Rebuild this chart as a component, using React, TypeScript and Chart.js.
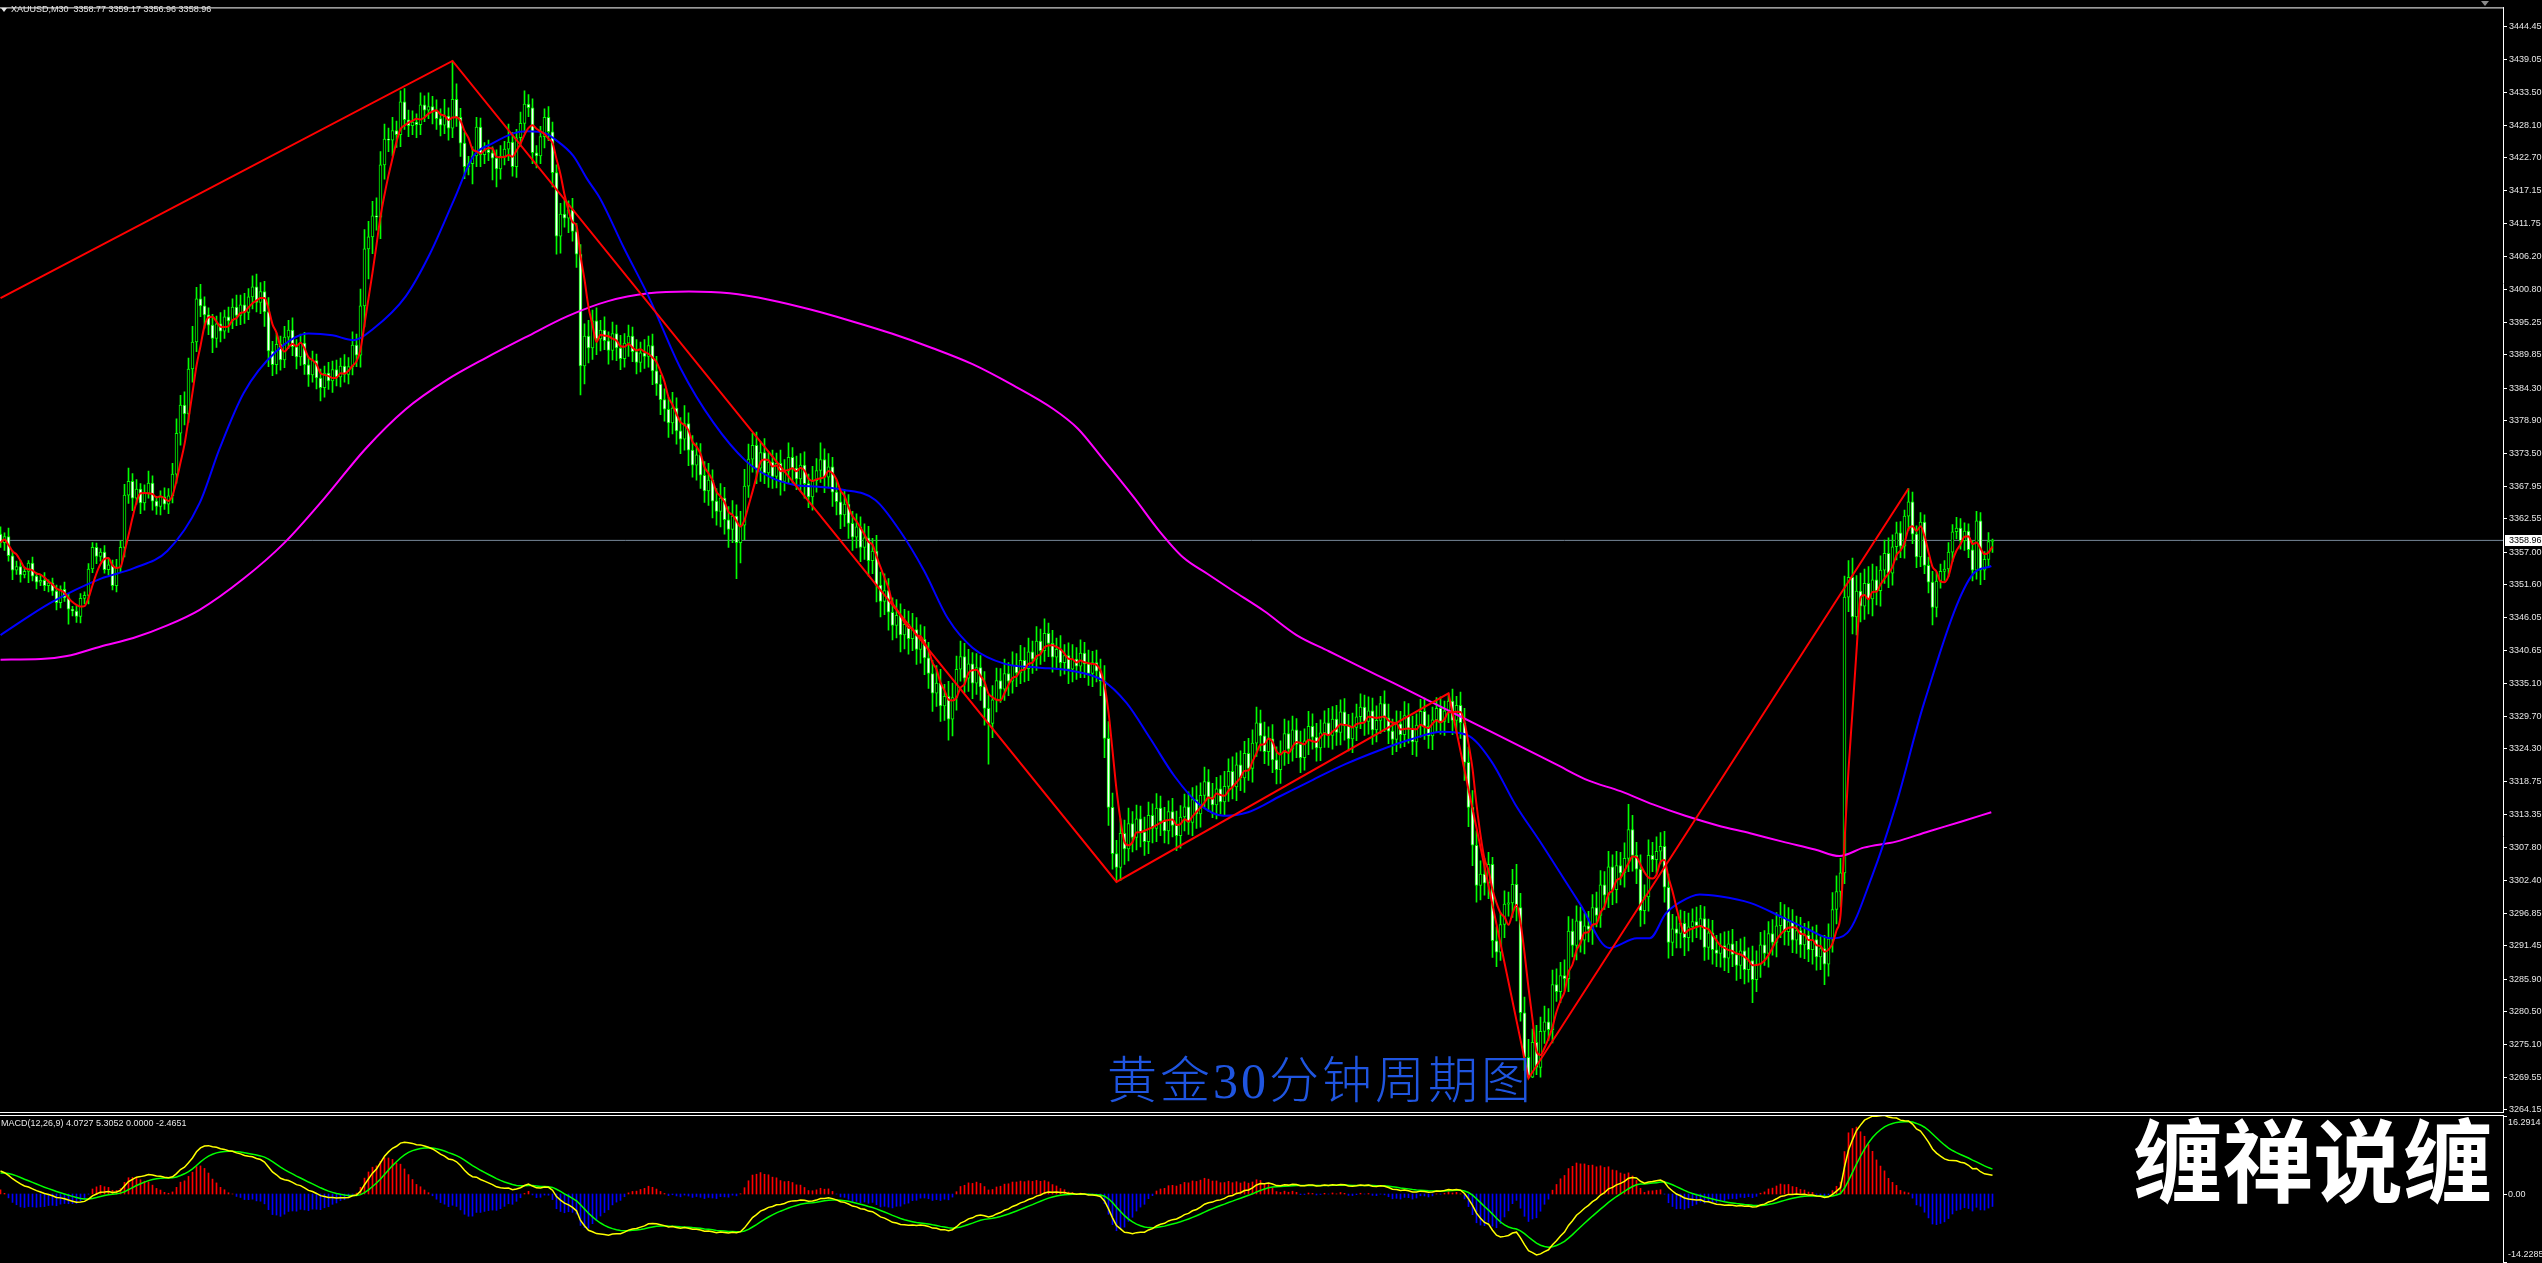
import React, { useEffect, useRef } from "react";
import { Chart, registerables } from "chart.js";

Chart.register(...registerables);

// ---------------- text ----------------
const symbolHeader = "XAUUSD,M30  3358.77 3359.17 3356.96 3358.96";
const macdHeader = "MACD(12,26,9) 4.0727 5.3052 0.0000 -2.4651";
const captionText = "黄金30分钟周期图";
const watermarkText = "缠禅说缠";

// ---------------- candles (M30, oldest -> newest) ----------------
const firstOpen = 3360.0;
const closes = [
  3358.6,3359.6,3356.4,3354.0,3354.6,3353.2,3353.8,3355.2,3353.0,3352.0,
  3352.3,3351.4,3351.9,3350.5,3348.6,3350.8,3349.4,3347.5,3347.2,3346.3,
  3349.3,3349.8,3354.2,3357.8,3356.3,3357.0,3354.1,3354.9,3351.4,3354.5,
  3357.8,3366.5,3368.8,3366.0,3367.5,3365.2,3366.8,3368.5,3365.5,3364.6,
  3366.2,3365.0,3366.4,3370.0,3376.8,3381.5,3380.0,3387.5,3392.0,3399.2,
  3398.0,3396.5,3394.8,3392.6,3395.0,3393.8,3396.2,3395.5,3397.8,3396.4,
  3398.2,3396.9,3399.5,3401.2,3398.6,3400.4,3397.0,3390.5,3388.2,3391.6,
  3389.0,3392.8,3394.0,3391.2,3389.5,3391.8,3388.2,3386.5,3388.9,3386.0,
  3384.4,3386.8,3385.5,3387.4,3386.2,3388.0,3386.6,3387.9,3391.5,3389.8,
  3398.0,3407.5,3409.5,3413.0,3412.8,3421.5,3425.8,3425.6,3427.2,3426.5,
  3432.0,3429.0,3428.0,3428.6,3428.2,3431.5,3430.6,3431.2,3430.4,3429.2,
  3428.1,3429.6,3427.6,3432.4,3429.4,3425.1,3421.2,3421.7,3423.0,3427.8,
  3423.2,3424.0,3423.5,3422.6,3420.8,3422.9,3424.1,3425.3,3421.2,3426.0,
  3428.4,3431.6,3431.0,3423.5,3423.0,3426.2,3429.4,3427.0,3420.2,3409.6,
  3413.3,3412.6,3414.0,3410.4,3406.6,3388.0,3393.0,3391.0,3395.5,3392.5,
  3394.0,3392.2,3390.6,3393.4,3391.0,3389.2,3391.8,3393.0,3390.4,3388.6,
  3390.2,3389.6,3391.4,3387.2,3385.0,3382.4,3380.8,3378.5,3381.0,3377.2,
  3375.8,3378.4,3374.0,3371.5,3373.2,3369.8,3367.2,3369.0,3365.5,3363.8,
  3366.0,3362.4,3360.8,3363.0,3358.6,3361.5,3368.0,3372.5,3374.8,3371.0,
  3373.6,3370.2,3372.0,3369.6,3371.8,3368.8,3370.5,3372.8,3371.0,3369.2,
  3371.5,3368.4,3366.2,3368.9,3370.6,3372.4,3369.5,3371.2,3367.0,3365.4,
  3363.2,3365.0,3361.8,3359.5,3361.2,3357.8,3359.4,3355.6,3357.2,3351.5,
  3348.8,3350.6,3347.0,3344.8,3346.5,3343.2,3345.0,3342.6,3344.1,3340.8,
  3342.5,3339.4,3336.8,3333.5,3335.2,3331.4,3333.0,3329.2,3332.8,3337.5,
  3339.6,3336.0,3338.4,3335.2,3337.8,3334.6,3331.0,3328.5,3332.4,3335.6,
  3334.2,3336.8,3335.5,3338.2,3336.9,3339.0,3337.6,3340.4,3339.2,3342.2,
  3340.6,3343.5,3341.8,3339.5,3340.8,3338.6,3339.8,3337.5,3339.2,3338.0,
  3340.2,3338.4,3336.8,3338.6,3337.2,3335.5,3326.0,3314.5,3306.8,3304.5,
  3310.2,3307.6,3311.8,3309.5,3312.6,3310.4,3308.8,3313.2,3311.0,3314.4,
  3312.2,3310.6,3313.8,3311.5,3309.8,3312.9,3314.6,3312.0,3315.8,3313.4,
  3316.5,3318.8,3316.2,3314.9,3317.6,3315.4,3318.0,3320.5,3317.9,3321.6,
  3319.4,3323.5,3321.0,3325.2,3328.6,3326.4,3323.8,3325.9,3322.4,3320.8,
  3323.6,3326.8,3324.2,3327.4,3325.0,3322.8,3325.6,3328.0,3326.2,3324.4,
  3326.9,3328.6,3326.5,3329.2,3327.0,3330.4,3328.1,3325.9,3327.8,3329.6,
  3331.2,3328.8,3330.6,3327.4,3329.0,3331.8,3329.4,3327.2,3325.8,3328.4,
  3326.6,3329.8,3327.5,3325.4,3328.2,3330.5,3328.0,3326.4,3329.1,3331.0,
  3328.8,3330.6,3332.2,3329.0,3331.5,3328.6,3322.0,3314.5,3308.2,3301.5,
  3303.4,3301.9,3305.0,3292.3,3290.4,3295.0,3298.4,3298.6,3301.7,3297.8,
  3280.3,3272.9,3269.6,3275.4,3271.2,3277.2,3278.8,3277.5,3285.0,3283.8,
  3286.5,3286.0,3293.9,3291.5,3295.6,3292.4,3294.8,3294.2,3297.8,3296.5,
  3301.6,3299.9,3304.6,3300.8,3304.8,3303.6,3306.0,3310.8,3306.5,3304.2,
  3297.3,3299.6,3306.5,3305.8,3307.2,3308.0,3301.2,3292.0,3294.3,3293.5,
  3295.2,3292.8,3294.6,3295.5,3294.8,3296.0,3291.2,3293.6,3290.8,3290.2,
  3291.5,3289.4,3291.8,3290.0,3288.2,3290.6,3287.5,3289.0,3285.8,3288.4,
  3291.6,3290.2,3293.5,3292.0,3294.8,3296.2,3293.8,3295.5,3292.4,3294.0,
  3291.6,3293.2,3290.8,3292.5,3289.6,3291.0,3288.4,3292.6,3297.5,3300.5,
  3303.6,3349.5,3352.8,3346.2,3350.5,3348.0,3351.8,3349.2,3352.4,3350.6,
  3354.0,3356.8,3353.5,3357.9,3360.2,3358.0,3363.0,3365.4,3360.0,3356.2,
  3362.0,3354.8,3352.0,3347.8,3352.2,3353.8,3354.2,3357.0,3360.4,3361.0,
  3358.9,3360.5,3357.4,3354.0,3362.2,3354.0,3355.8,3358.77,3358.96,
];
const upWicks = [
  1.2,0.6,1.4,0.8,0.9,1.1,0.7,0.4,1.0,0.6,
  0.9,1.3,0.5,0.8,1.0,0.6,1.2,0.7,0.5,0.9,
  0.8,0.6,0.9,0.8,0.7,0.6,1.1,0.9,0.8,1.3,
  1.1,1.8,2.2,1.3,1.6,0.9,1.4,2.0,1.2,0.8,
  1.0,1.5,1.2,1.8,2.4,1.6,2.2,1.8,2.6,1.9,
  2.4,1.5,1.2,1.8,1.3,1.9,1.1,1.6,1.4,2.0,
  1.6,1.9,1.4,1.8,2.1,1.5,1.7,2.4,1.6,1.9,
  1.4,1.8,1.6,2.0,1.2,1.5,1.8,1.3,1.6,1.1,
  1.5,1.2,1.8,1.4,1.6,1.3,1.9,1.5,2.2,1.8,
  2.8,3.2,2.6,2.4,3.0,2.2,2.5,1.8,2.2,1.6,
  1.8,2.2,1.6,1.9,1.4,2.0,1.5,2.3,1.7,1.9,
  1.6,2.8,1.4,6.4,2.6,1.5,1.8,1.2,1.5,1.6,
  1.5,1.2,1.6,1.0,1.4,1.8,1.3,3.0,1.6,1.4,
  1.9,2.2,1.6,1.5,1.2,1.7,1.4,1.8,1.6,1.3,
  1.8,2.4,1.5,1.9,1.3,1.6,2.0,2.6,1.8,2.2,
  1.6,2.2,1.5,1.9,1.4,2.1,1.6,1.8,1.5,2.0,
  1.8,2.2,1.6,1.9,2.4,1.5,1.8,2.0,2.6,1.7,
  2.2,3.0,1.8,2.4,2.0,1.9,2.3,2.8,1.7,2.1,
  2.4,1.8,2.2,2.6,1.9,2.3,2.8,2.5,2.0,2.2,
  1.8,2.3,1.6,2.0,1.7,2.2,1.9,2.4,1.6,2.0,
  1.9,2.2,1.6,2.4,2.0,2.8,1.8,2.2,1.6,2.0,
  1.8,2.4,1.6,2.0,2.2,1.7,2.3,1.9,2.1,2.6,
  2.2,2.8,2.0,2.4,2.6,1.9,2.5,2.2,2.7,2.0,
  2.4,2.1,2.6,2.2,2.9,2.3,2.0,2.5,2.4,2.2,
  2.6,2.2,2.4,1.9,2.3,2.0,2.5,2.2,2.4,2.1,
  2.0,2.4,1.8,2.2,1.9,2.5,2.1,2.3,1.8,2.4,
  2.0,2.4,1.7,2.2,1.9,2.3,1.8,2.1,2.4,1.9,
  2.2,1.8,2.3,1.9,2.1,2.0,2.6,2.8,2.4,2.2,
  2.4,2.2,2.6,2.0,2.3,2.1,2.5,2.2,1.9,2.4,
  2.0,2.3,1.8,2.2,2.4,1.9,2.1,2.5,2.0,2.3,
  2.1,2.4,2.0,2.3,1.9,2.2,2.5,2.1,2.4,2.0,
  2.3,2.0,2.5,2.2,2.6,2.1,2.3,2.0,2.4,2.2,
  2.0,2.4,2.1,2.3,1.9,2.2,2.0,2.5,2.1,2.3,
  2.2,2.0,2.4,2.1,2.3,2.0,2.2,1.9,2.4,2.1,
  2.2,2.0,2.3,2.1,2.4,1.2,2.1,2.3,2.0,2.2,
  2.1,2.3,2.0,2.2,1.9,2.0,2.2,1.9,2.1,1.8,
  1.9,1.6,1.3,2.0,1.5,2.2,2.4,2.6,2.8,2.4,
  2.2,2.6,2.0,1.2,2.3,2.0,2.2,1.8,2.5,3.3,
  2.4,2.6,3.0,2.2,2.8,2.4,2.6,2.2,2.4,2.6,
  2.2,2.6,2.4,2.0,2.5,2.3,2.1,2.4,2.2,2.6,
  2.4,2.2,2.6,2.0,2.4,2.2,2.6,4.2,2.4,2.2,
  2.4,2.0,2.6,2.2,2.4,2.3,2.5,2.2,2.4,2.0,
  2.2,2.0,2.3,2.1,2.4,2.2,2.0,2.3,2.1,2.4,
  2.0,2.3,2.1,2.4,2.2,2.0,2.3,2.1,2.4,2.2,
  2.1,2.4,2.0,2.3,2.2,2.5,2.1,2.3,2.0,2.4,
  2.2,2.0,2.3,2.1,2.4,2.0,2.2,2.5,2.8,2.6,
  2.4,3.5,2.8,3.2,2.6,3.0,2.4,2.8,2.6,2.2,
  2.4,2.2,2.6,2.0,1.8,1.9,1.0,2.2,1.6,1.4,
  1.6,1.2,1.4,1.8,1.5,1.2,1.4,1.6,1.2,1.8,
  1.6,1.4,1.2,1.5,1.6,1.4,1.3,1.5,0.21,
];
const downWicks = [
  0.8,1.3,0.9,1.6,0.7,1.2,0.5,1.9,0.8,1.1,
  0.6,0.8,1.0,0.7,1.2,0.9,0.6,2.5,0.8,1.0,
  1.1,0.9,1.4,0.6,1.2,0.8,0.6,0.9,0.7,1.0,
  0.9,1.6,1.4,2.1,1.0,1.8,1.2,0.8,1.5,1.3,
  1.4,0.9,1.6,1.2,1.5,2.0,1.8,1.4,2.2,1.6,
  1.8,2.2,1.6,2.4,1.5,1.8,1.2,1.9,1.3,1.7,
  1.5,1.8,1.2,2.0,1.6,1.9,2.4,2.6,1.8,1.5,
  1.7,1.3,1.9,1.5,2.0,1.4,1.6,1.9,1.2,1.8,
  2.2,1.6,1.4,1.9,1.5,1.7,1.3,1.6,1.4,1.9,
  2.0,3.5,5.0,2.8,2.2,3.6,2.4,1.9,2.6,2.1,
  2.0,1.6,1.8,1.5,2.2,1.7,1.9,1.4,2.1,1.8,
  1.8,1.4,2.0,1.6,1.5,2.2,2.0,1.4,3.4,1.8,
  2.0,1.5,1.3,3.6,3.0,1.7,1.4,1.9,1.6,1.8,
  1.4,1.6,1.5,1.8,2.0,1.3,1.9,1.5,2.4,3.0,
  2.8,1.5,2.4,1.6,2.2,4.8,3.0,2.5,1.9,2.6,
  2.0,1.5,2.3,1.6,2.1,1.8,1.4,2.2,1.7,1.9,
  1.6,2.0,1.8,2.3,1.9,2.5,2.0,2.4,1.8,2.2,
  2.4,1.8,2.6,2.0,2.5,2.2,1.9,2.4,2.8,2.3,
  2.6,2.4,3.0,2.2,6.0,3.4,2.4,1.9,2.2,2.6,
  2.2,1.8,2.4,2.0,1.9,2.3,1.6,2.1,2.5,1.8,
  2.1,2.4,1.8,2.2,1.9,2.0,2.6,1.8,2.4,2.2,
  2.3,1.9,2.5,2.2,1.8,2.4,2.0,2.6,2.2,2.8,
  2.6,2.2,3.0,2.4,2.1,2.8,2.3,2.6,2.0,2.5,
  2.3,2.8,2.5,3.0,2.2,2.6,2.4,3.5,2.8,2.1,
  2.0,2.4,2.2,2.6,1.9,2.3,2.8,6.8,2.4,2.0,
  2.2,1.9,2.4,2.0,2.3,1.8,2.2,2.0,2.4,1.9,
  2.3,1.8,2.2,2.5,2.0,2.2,1.9,2.4,2.1,2.2,
  1.9,2.3,2.0,2.2,1.8,2.4,3.2,3.0,2.6,2.4,
  2.2,2.6,2.0,2.4,2.1,2.5,2.3,2.0,2.4,2.2,
  2.4,2.0,2.2,1.9,2.5,2.1,2.3,2.0,2.2,2.4,
  2.2,2.0,2.4,2.1,2.3,2.0,2.2,2.5,2.0,2.3,
  2.1,2.4,2.0,2.3,2.2,2.5,2.0,2.3,2.1,2.4,
  2.3,2.1,2.4,2.0,2.2,2.5,2.1,2.3,2.0,2.2,
  2.1,2.4,2.0,2.3,2.2,2.1,2.4,2.0,2.3,2.2,
  2.0,2.3,2.1,2.4,2.0,2.2,2.3,2.1,2.5,2.0,
  2.2,2.0,2.3,2.1,2.4,2.0,2.2,2.1,2.3,2.0,
  2.1,2.3,2.0,2.4,2.2,2.6,3.0,3.2,3.4,2.8,
  2.4,2.0,2.6,2.8,2.4,1.4,2.2,2.0,2.4,2.2,
  1.4,2.2,0.2,0.1,1.2,1.6,2.0,1.8,2.2,1.6,
  1.8,2.0,2.2,1.9,2.4,2.0,2.3,2.1,2.5,1.9,
  2.0,2.4,2.1,2.5,2.2,2.0,2.4,2.2,2.6,2.4,
  2.6,2.2,2.4,2.0,2.3,2.1,2.5,2.6,2.2,2.4,
  2.4,3.0,2.2,2.5,2.0,2.3,2.2,2.0,2.4,2.2,
  2.3,2.1,2.4,2.0,2.5,2.2,2.4,2.1,3.8,2.0,
  2.2,2.0,2.3,2.1,2.4,2.0,2.2,2.3,2.1,2.2,
  2.1,2.3,2.0,2.4,2.2,2.1,3.4,2.0,2.2,2.4,
  2.6,1.8,2.4,2.8,3.0,2.6,2.2,2.5,2.8,2.4,
  2.6,2.2,2.4,2.0,2.2,1.9,2.0,2.4,1.6,1.8,
  1.6,1.4,1.8,2.9,1.6,1.2,1.5,1.3,1.6,1.2,
  1.4,1.6,1.3,1.8,1.5,2.4,1.6,1.4,1.81,
];

// ---------------- price axis ----------------
const priceTicks = [
  3444.45, 3439.05, 3433.5, 3428.1, 3422.7, 3417.15, 3411.75, 3406.2, 3400.8,
  3395.25, 3389.85, 3384.3, 3378.9, 3373.5, 3367.95, 3362.55, 3357.0, 3351.6,
  3346.05, 3340.65, 3335.1, 3329.7, 3324.3, 3318.75, 3313.35, 3307.8, 3302.4,
  3296.85, 3291.45, 3285.9, 3280.5, 3275.1, 3269.55, 3264.15,
];
const priceMin = 3263.78;
const priceMax = 3447.71;
const currentPrice = 3358.96;

// ---------------- overlays ----------------
const zigzagIndex = [0, 113, 279, 362, 382, 477];
const zigzagPrice = [3399.3, 3438.8, 3302.1, 3333.5, 3269.4, 3367.6];

const blueIndex = [
  0,12.6,25.1,33.2,41.7,49.8,54.7,60.8,68.9,77.0,83.0,88.3,93.2,101.3,107.3,
  113.4,118.3,123.1,128.0,131.6,136.5,138.1,143.2,146.6,149.9,155.9,162.0,170.1,
  178.2,186.3,192.4,198.5,204.5,210.6,218.7,224.8,230.9,236.9,243.0,251.1,259.2,
  267.3,275.4,281.5,287.6,293.6,299.7,305.8,311.9,320.0,328.1,336.2,344.3,352.4,
  360.5,366.5,372.6,378.7,384.8,394.9,402.2,409.1,412.3,416.3,419.6,424.8,429.7,
  437.4,445.5,451.6,457.7,461.7,467.8,473.9,480.9,492.7,497.7,
];
const bluePrice = [
  3343.2,3348.6,3352.6,3354.3,3357.2,3365.2,3374.1,3383.5,3390.4,3393.4,3393.1,
  3392.3,3394.2,3399.6,3406.6,3415.7,3423.0,3425.1,3426.7,3427.1,3426.7,3426.0,
  3423.0,3419.2,3415.9,3407.6,3399.6,3387.5,3378.6,3372.2,3369.5,3368.2,3367.9,
  3367.4,3365.7,3360.6,3353.9,3345.9,3341.1,3338.4,3337.8,3337.3,3335.7,3331.9,
  3325.8,3319.6,3315.0,3313.1,3313.7,3316.4,3319.1,3321.7,3323.9,3325.8,3327.1,
  3326.6,3322.3,3315.0,3308.9,3298.4,3291.1,3292.7,3292.7,3296.8,3298.6,3300.0,
  3299.7,3298.6,3296.2,3294.3,3292.7,3293.6,3302.9,3315.0,3331.9,3353.0,3354.7,
];
const magentaIndex = [
  0,10.1,16.6,25.1,33.2,41.7,49.8,60.8,70.9,81.0,91.1,101.3,111.4,121.5,131.6,
  141.8,151.9,162.0,172.1,182.3,192.4,202.5,212.6,222.8,232.9,243.0,253.1,263.3,
  269.3,275.4,283.5,289.6,295.7,301.7,307.8,315.9,324.0,332.1,340.2,348.3,356.4,
  364.5,372.6,380.7,388.8,396.9,405.0,413.1,421.2,429.3,437.4,445.5,453.6,459.7,
  465.8,473.9,482.0,490.1,497.7,
];
const magentaPrice = [
  3339.1,3339.2,3339.7,3341.3,3342.7,3344.8,3347.4,3352.6,3358.5,3366.0,3374.1,
  3380.8,3385.6,3389.4,3392.9,3396.3,3398.8,3400.1,3400.4,3400.1,3399.0,3397.4,
  3395.5,3393.4,3391.0,3388.3,3384.8,3380.8,3377.6,3372.7,3366.0,3360.6,3356.1,
  3353.4,3350.7,3347.2,3343.2,3340.5,3337.8,3335.2,3332.5,3329.8,3327.1,3324.4,
  3321.7,3319.0,3317.2,3315.0,3313.1,3311.5,3310.2,3308.8,3307.5,3306.4,3307.8,
  3308.8,3310.5,3312.1,3313.7,
];
const fastMaPeriod = 5;

// ---------------- MACD ----------------
const macdPeriods = [12, 26, 9];
const macdSeed = [1.0, -4.2, 4.2]; // ema12 offset, ema26 offset, initial signal
const macdTicks = [16.2914, 0, -14.2285];
const macdMin = -14.2285;
const macdMax = 16.2914;

// ---------------- layout ----------------
const W = 2542;
const AXIS_W = 39;
const X_MIN = -0.125;
const X_MAX = X_MIN + (W - AXIS_W) / 4;
const MAIN_H = 1122;
const MACD_TOP = 1112;
const MACD_H = 151;
const LABEL_FONT = '9px "Liberation Sans", "DejaVu Sans", sans-serif';
const LABEL_COLOR = "#e6e6e6";

export default function App() {
  const mainRef = useRef<HTMLCanvasElement>(null);
  const macdRef = useRef<HTMLCanvasElement>(null);

  useEffect(() => {
    const n = closes.length;
    const opens = closes.map((c, i) => (i === 0 ? firstOpen : closes[i - 1]));
    const highs = closes.map((c, i) => Math.max(opens[i], c) + upWicks[i]);
    const lows = closes.map((c, i) => Math.min(opens[i], c) - downWicks[i]);

    const fastMa = closes.map((_, i) => {
      const s = Math.max(0, i - fastMaPeriod + 1);
      const win = closes.slice(s, i + 1);
      return { x: i, y: win.reduce((a, b) => a + b, 0) / win.length };
    });

    // MACD
    const k12 = 2 / (macdPeriods[0] + 1);
    const k26 = 2 / (macdPeriods[1] + 1);
    const k9 = 2 / (macdPeriods[2] + 1);
    let e12 = closes[0] + macdSeed[0];
    let e26 = closes[0] + macdSeed[1];
    let sig = macdSeed[2];
    const dif: { x: number; y: number }[] = [];
    const dea: { x: number; y: number }[] = [];
    const hist: { x: number; y: number }[] = [];
    for (let i = 0; i < n; i++) {
      e12 += k12 * (closes[i] - e12);
      e26 += k26 * (closes[i] - e26);
      const d = e12 - e26;
      sig += k9 * (d - sig);
      dif.push({ x: i, y: d });
      dea.push({ x: i, y: sig });
      hist.push({ x: i, y: 2 * (d - sig) });
    }

    const mainDecor = {
      id: "mainDecor",
      afterDraw(chart: any) {
        const { ctx, chartArea: a, scales } = chart;
        ctx.save();
        ctx.fillStyle = "#ffffff";
        ctx.fillRect(0, a.top, a.right, 1);
        ctx.fillRect(0, a.bottom, a.right + 1, 1);
        const y = Math.round(scales.y.getPixelForValue(currentPrice));
        ctx.fillRect(a.right + 2, y - 5, AXIS_W - 2, 11);
        ctx.fillStyle = "#000000";
        ctx.font = LABEL_FONT;
        ctx.textBaseline = "middle";
        ctx.textAlign = "left";
        ctx.fillText(currentPrice.toFixed(2), a.right + 6, y + 0.5);
        ctx.restore();
      },
    };

    const macdDecor = {
      id: "macdDecor",
      afterDraw(chart: any) {
        const { ctx, chartArea: a, scales } = chart;
        ctx.save();
        ctx.fillStyle = "#ffffff";
        ctx.fillRect(0, a.top, a.right, 1);
        ctx.font = LABEL_FONT;
        ctx.textBaseline = "middle";
        ctx.textAlign = "left";
        macdTicks.forEach((v) => {
          const y = Math.round(scales.y.getPixelForValue(v));
          const my = Math.min(Math.max(y, a.top + 1), a.bottom - 1);
          ctx.fillStyle = "#ffffff";
          ctx.fillRect(a.right, my, 4, 1);
          const ty = Math.min(Math.max(y, a.top + 7), a.bottom - 9);
          ctx.fillStyle = LABEL_COLOR;
          ctx.fillText(v === 0 ? "0.00" : v.toFixed(4), a.right + 5, ty + 0.5);
        });
        ctx.restore();
      },
    };

    const xScale = {
      type: "linear" as const,
      min: X_MIN,
      max: X_MAX,
      display: false,
      offset: false,
    };

    const main = new Chart(mainRef.current!, {
      type: "bar",
      data: {
        datasets: [
          {
            type: "line",
            data: [
              { x: X_MIN, y: currentPrice },
              { x: X_MAX, y: currentPrice },
            ],
            borderColor: "#778899",
            borderWidth: 1,
            pointRadius: 0,
            order: 40,
          } as any,
          {
            type: "bar",
            data: closes.map((_, i) => ({ x: i, y: [lows[i], highs[i]] })),
            backgroundColor: "#00ff00",
            barThickness: 1,
            grouped: false,
            order: 30,
          } as any,
          {
            type: "bar",
            data: closes.map((c, i) => ({ x: i, y: [opens[i], c] })),
            backgroundColor: closes.map((c, i) => (c > opens[i] ? "#000000" : "#ffffff")),
            borderColor: "#00ff00",
            borderWidth: 1,
            borderSkipped: false,
            barThickness: 3,
            minBarLength: 1,
            grouped: false,
            order: 29,
          } as any,
          {
            type: "line",
            data: magentaIndex.map((x, i) => ({ x, y: magentaPrice[i] })),
            borderColor: "#ff00ff",
            borderWidth: 2,
            pointRadius: 0,
            cubicInterpolationMode: "monotone",
            order: 5,
          } as any,
          {
            type: "line",
            data: blueIndex.map((x, i) => ({ x, y: bluePrice[i] })),
            borderColor: "#0000ff",
            borderWidth: 2,
            pointRadius: 0,
            cubicInterpolationMode: "monotone",
            order: 4,
          } as any,
          {
            type: "line",
            data: fastMa,
            borderColor: "#ff0000",
            borderWidth: 2,
            pointRadius: 0,
            cubicInterpolationMode: "monotone",
            order: 3,
          } as any,
          {
            type: "line",
            data: zigzagIndex.map((x, i) => ({ x, y: zigzagPrice[i] })),
            borderColor: "#ff0000",
            borderWidth: 2,
            pointRadius: 0,
            tension: 0,
            order: 2,
          } as any,
        ],
      },
      options: {
        animation: false,
        responsive: false,
        devicePixelRatio: 1,
        events: [],
        layout: { padding: { top: 1, bottom: MAIN_H - 1112, left: 0, right: 0 } },
        plugins: { legend: { display: false }, tooltip: { enabled: false } },
        scales: {
          x: xScale,
          y: {
            position: "right",
            min: priceMin,
            max: priceMax,
            afterFit: (s: any) => {
              s.width = AXIS_W;
            },
            afterBuildTicks: (s: any) => {
              s.ticks = priceTicks.map((v) => ({ value: v }));
            },
            ticks: {
              autoSkip: false,
              color: LABEL_COLOR,
              font: { family: '"Liberation Sans", "DejaVu Sans", sans-serif', size: 9 },
              padding: 2,
              callback: (v: any) => Number(v).toFixed(2),
            },
            grid: {
              drawOnChartArea: false,
              drawTicks: true,
              tickLength: 4,
              color: "#ffffff",
            },
            border: { display: true, color: "#ffffff", width: 1 },
          },
        },
      } as any,
      plugins: [mainDecor],
    });

    const macd = new Chart(macdRef.current!, {
      type: "bar",
      data: {
        datasets: [
          {
            type: "bar",
            data: hist,
            backgroundColor: hist.map((h) => (h.y >= 0 ? "#ff0000" : "#0000ff")),
            barThickness: 1,
            grouped: false,
            order: 10,
          } as any,
          {
            type: "line",
            data: dea,
            borderColor: "#00ff00",
            borderWidth: 1.5,
            pointRadius: 0,
            order: 2,
          } as any,
          {
            type: "line",
            data: dif,
            borderColor: "#ffff00",
            borderWidth: 1.5,
            pointRadius: 0,
            order: 1,
          } as any,
        ],
      },
      options: {
        animation: false,
        responsive: false,
        devicePixelRatio: 1,
        events: [],
        layout: { padding: { top: 3, bottom: 0, left: 0, right: 0 } },
        plugins: { legend: { display: false }, tooltip: { enabled: false } },
        scales: {
          x: xScale,
          y: {
            position: "right",
            min: macdMin,
            max: macdMax,
            afterFit: (s: any) => {
              s.width = AXIS_W;
            },
            ticks: { display: false },
            grid: { display: false },
            border: { display: true, color: "#ffffff", width: 1 },
          },
        },
      } as any,
      plugins: [macdDecor],
    });

    return () => {
      main.destroy();
      macd.destroy();
    };
  }, []);

  return (
    <div
      style={{
        position: "fixed",
        left: 0,
        top: 0,
        width: W,
        height: 1263,
        background: "#000000",
        overflow: "hidden",
      }}
    >
      <canvas
        ref={mainRef}
        width={W}
        height={MAIN_H}
        style={{ position: "absolute", left: 0, top: 0, width: W, height: MAIN_H }}
      />
      <canvas
        ref={macdRef}
        width={W}
        height={MACD_H}
        style={{ position: "absolute", left: 0, top: MACD_TOP, width: W, height: MACD_H }}
      />
      <div
        style={{
          position: "absolute",
          left: 1,
          top: 8,
          width: 0,
          height: 0,
          borderLeft: "3px solid transparent",
          borderRight: "3px solid transparent",
          borderTop: "4px solid #e6e6e6",
        }}
      />
      <div
        style={{
          position: "absolute",
          left: 2481,
          top: 1,
          width: 0,
          height: 0,
          borderLeft: "4px solid transparent",
          borderRight: "4px solid transparent",
          borderTop: "5px solid #8a8a8a",
        }}
      />
      <div
        style={{
          position: "absolute",
          left: 11,
          top: 3,
          font: '9px "Liberation Sans", "DejaVu Sans", sans-serif',
          lineHeight: "12px",
          color: LABEL_COLOR,
          whiteSpace: "pre",
        }}
      >
        {symbolHeader}
      </div>
      <div
        style={{
          position: "absolute",
          left: 1,
          top: 1117,
          font: '9px "Liberation Sans", "DejaVu Sans", sans-serif',
          lineHeight: "12px",
          color: LABEL_COLOR,
          whiteSpace: "pre",
        }}
      >
        {macdHeader}
      </div>
      <div
        style={{
          position: "absolute",
          left: 1107,
          top: 1056,
          fontFamily: '"Liberation Serif", "Noto Sans CJK SC", serif',
          fontSize: 50,
          fontWeight: 300,
          letterSpacing: 3,
          lineHeight: "50px",
          color: "#1f55e0",
          whiteSpace: "pre",
        }}
      >
        {captionText}
      </div>
      <div
        style={{
          position: "absolute",
          left: 2133,
          top: 1111,
          fontFamily: '"Noto Sans CJK SC", sans-serif',
          fontSize: 90,
          fontWeight: 700,
          lineHeight: "90px",
          color: "#ffffff",
          whiteSpace: "pre",
        }}
      >
        {watermarkText}
      </div>
    </div>
  );
}
